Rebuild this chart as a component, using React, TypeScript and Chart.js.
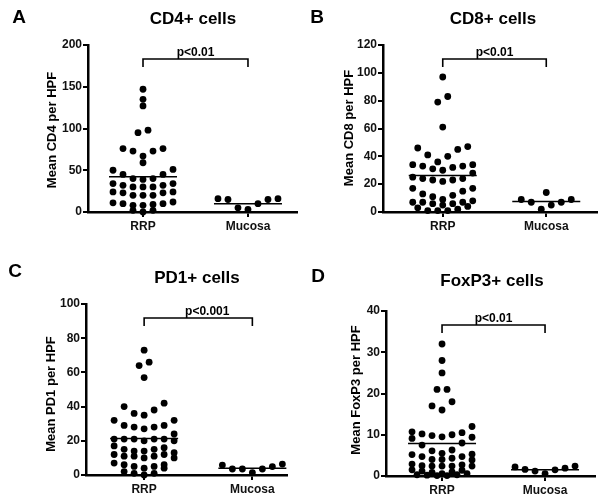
import React, { useEffect, useRef } from 'react';
import { Chart, registerables } from 'chart.js';
Chart.register(...registerables);

const FONT = '"Liberation Sans", Arial, Helvetica, sans-serif';

// ---------- data ----------
const groups = ['RRP', 'Mucosa'];

const cd4Rrp = [147, 135, 127, 98, 95, 76, 76, 73, 73, 67, 59, 51, 50, 45, 45, 40, 40, 39, 34, 34, 32, 32, 30, 30, 30, 24, 24, 23, 23, 20, 20, 20, 12, 11, 10, 10, 9, 8, 8, 2, 2, 0];
const cd4Muc = [16, 15, 15, 16, 10, 3, 5];
const cd4Means = [42.3, 10];
const cd4Ticks = [0, 50, 100, 150, 200];

const cd8Rrp = [97, 83, 79, 61, 47, 46, 45, 41, 40, 36, 34, 34, 33, 33, 32, 31, 30, 28, 25, 24, 24, 23, 23, 22, 17, 17, 15, 13, 12, 11, 9, 8, 7, 7, 7, 6, 6, 5, 4, 3, 2, 1, 1, 1];
const cd8Muc = [9, 7, 2, 14, 5, 7, 9];
const cd8Means = [26.3, 7.6];
const cd8Ticks = [0, 20, 40, 60, 80, 100, 120];

const pd1Rrp = [73, 66, 64, 57, 42, 40, 38, 36, 35, 32, 32, 29, 29, 28, 28, 27, 24, 21, 21, 21, 21, 21, 20, 20, 17, 16, 15, 15, 14, 14, 13, 12, 12, 11, 11, 11, 10, 10, 7, 6, 6, 5, 5, 4, 4, 2, 1, 1, 0];
const pd1Muc = [6.4, 4.9, 3.5, 1.4, 3.5, 3.5, 5.8];
const pd1Means = [21.4, 3.9];
const pd1Ticks = [0, 20, 40, 60, 80, 100];

const foxRrp = [32, 28, 25, 21, 21, 18, 17, 16, 12, 10.7, 10.5, 10.2, 10, 9.8, 9.5, 9.4, 9.1, 8, 7.5, 6.3, 6.1, 5.5, 5.3, 5.2, 4.7, 4.7, 4.3, 4, 4, 3.9, 2.9, 2.7, 2.5, 2.4, 2.4, 2.4, 2.4, 1.5, 1.4, 1.2, 1, 0.9, 0.6, 0.6, 0.3, 0.3, 0.2, 0.1, 0.1];
const foxMuc = [2.4, 1.9, 1.6, 0.6, 1.2, 1.5, 2.2];
const foxMeans = [7.9, 1.5];
const foxTicks = [0, 10, 20, 30, 40];

const letters = ['A', 'B', 'C', 'D'];
const titles = ['CD4+ cells', 'CD8+ cells', 'PD1+ cells', 'FoxP3+ cells'];
const yTitles = ['Mean CD4 per HPF', 'Mean CD8 per HPF', 'Mean PD1 per HPF', 'Mean FoxP3 per HPF'];
const pTexts = ['p<0.01', 'p<0.01', 'p<0.001', 'p<0.01'];

// ---------- layout (canvas coords, each panel 302x249) ----------
const W = 302, H = 249;
const layouts = [
  { left: 0, top: 0, area: { l: 88, t: 45, r: 297, b: 212 }, xMin: -0.524, xMax: 1.467, titleX: 193, titleY: 19, letterX: 19, letterY: 18, yTitleX: 52, yTitleY: 130, pDx: 0 },
  { left: 302, top: 0, area: { l: 81, t: 45, r: 295, b: 212 }, xMin: -0.577, xMax: 1.49, titleX: 191, titleY: 19, letterX: 15, letterY: 18, yTitleX: 47, yTitleY: 128, pDx: 0 },
  { left: 0, top: 249, area: { l: 86, t: 55, r: 287, b: 226 }, xMin: -0.537, xMax: 1.32, titleX: 197, titleY: 29, letterX: 15, letterY: 23, yTitleX: 51, yTitleY: 145, pDx: 9 },
  { left: 302, top: 249, area: { l: 84, t: 62, r: 293, b: 227 }, xMin: -0.544, xMax: 1.485, titleX: 190, titleY: 32, letterX: 16, letterY: 28, yTitleX: 54, yTitleY: 141, pDx: 0 },
];

const panelData = [
  { rrp: cd4Rrp, muc: cd4Muc, means: cd4Means, ticks: cd4Ticks },
  { rrp: cd8Rrp, muc: cd8Muc, means: cd8Means, ticks: cd8Ticks },
  { rrp: pd1Rrp, muc: pd1Muc, means: pd1Means, ticks: pd1Ticks },
  { rrp: foxRrp, muc: foxMuc, means: foxMeans, ticks: foxTicks },
];

// GraphPad-like row layout of dots (pixel offsets from category centre)
function swarmOffsets(values: number[], toPx: (v: number) => number, gap = 6, span = 17, cap = 7, step = 10): number[] {
  const idx = values.map((_, i) => i).sort((a, b) => values[b] - values[a]);
  const rows: number[][] = [];
  let cur: number[] = [];
  for (const i of idx) {
    if (cur.length) {
      const first = toPx(values[cur[0]]);
      const prev = toPx(values[cur[cur.length - 1]]);
      const y = toPx(values[i]);
      if (cur.length >= cap || y - prev > gap || y - first > span) {
        rows.push(cur);
        cur = [];
      }
    }
    cur.push(i);
  }
  if (cur.length) rows.push(cur);
  const off = new Array(values.length).fill(0);
  for (const row of rows) {
    const n = row.length;
    const slots = Array.from({ length: n }, (_, k) => (k - (n - 1) / 2) * step);
    const order = slots.map((_, k) => k).sort((a, b) => Math.abs(slots[a]) - Math.abs(slots[b]) || slots[a] - slots[b]);
    const asc = [...row].sort((a, b) => values[a] - values[b]);
    asc.forEach((p, k) => { off[p] = slots[order[k]]; });
  }
  return off;
}

const decoPlugin = {
  id: 'deco',
  afterDraw(chart: any, _args: any, opts: any) {
    const { idx } = opts;
    const lay = layouts[idx];
    const pd = panelData[idx];
    const ctx = chart.ctx as CanvasRenderingContext2D;
    const xs = chart.scales.x, ys = chart.scales.y;
    const area = chart.chartArea;
    ctx.save();
    ctx.fillStyle = '#000';
    ctx.strokeStyle = '#000';
    ctx.textAlign = 'center';
    ctx.textBaseline = 'middle';
    ctx.font = `bold 19px ${FONT}`;
    ctx.fillText(letters[idx], lay.letterX, lay.letterY);
    ctx.font = `bold 17px ${FONT}`;
    ctx.fillText(titles[idx], lay.titleX, lay.titleY);
    ctx.save();
    ctx.translate(lay.yTitleX, lay.yTitleY);
    ctx.rotate(-Math.PI / 2);
    ctx.font = `bold 13px ${FONT}`;
    ctx.fillText(yTitles[idx], 0, 0);
    ctx.restore();
    // mean lines
    ctx.lineWidth = 1.5;
    pd.means.forEach((m, g) => {
      const cx = xs.getPixelForValue(g);
      const yy = ys.getPixelForValue(m);
      ctx.beginPath();
      ctx.moveTo(cx - 34, yy);
      ctx.lineTo(cx + 34, yy);
      ctx.stroke();
    });
    // significance bracket
    const x0 = xs.getPixelForValue(0), x1 = xs.getPixelForValue(1);
    const by = area.top + 14, be = area.top + 22;
    ctx.lineWidth = 1.6;
    ctx.beginPath();
    ctx.moveTo(x0, be);
    ctx.lineTo(x0, by);
    ctx.lineTo(x1, by);
    ctx.lineTo(x1, be);
    ctx.stroke();
    ctx.font = `bold 12px ${FONT}`;
    ctx.textBaseline = 'alphabetic';
    ctx.fillText(pTexts[idx], (x0 + x1) / 2 + lay.pDx, by - 3.5);
    ctx.restore();
  },
};

function Panel({ idx }: { idx: number }) {
  const ref = useRef<HTMLCanvasElement>(null);
  useEffect(() => {
    const lay = layouts[idx];
    const pd = panelData[idx];
    const sets = [pd.rrp, pd.muc];
    const tickFont = { family: FONT, size: 12, weight: 'bold' as const };
    const chart = new Chart(ref.current!, {
      type: 'scatter',
      data: {
        datasets: sets.map((vals, g) => ({
          label: groups[g],
          data: vals.map((v) => ({ x: g, y: v })),
          pointRadius: 3.4,
          pointHoverRadius: 3.4,
          pointBackgroundColor: '#000',
          pointBorderWidth: 0,
          clip: false as any,
        })),
      },
      options: {
        animation: false,
        responsive: false,
        devicePixelRatio: 1,
        layout: { padding: { left: 0, top: lay.area.t, right: W - lay.area.r, bottom: 0 } },
        plugins: {
          legend: { display: false },
          tooltip: { enabled: false },
          deco: { idx },
        } as any,
        scales: {
          x: {
            type: 'linear',
            min: lay.xMin,
            max: lay.xMax,
            afterBuildTicks: (s: any) => { s.ticks = groups.map((_, i) => ({ value: i })); },
            afterFit: (s: any) => { s.height = H - lay.area.b; },
            ticks: { callback: (v: any) => groups[Math.round(Number(v))] ?? '', font: tickFont, color: '#111', padding: 2, maxRotation: 0, autoSkip: false },
            grid: { display: true, drawOnChartArea: false, drawTicks: true, tickLength: 5, color: '#000', lineWidth: 2 },
            border: { display: true, color: '#000', width: 2.5 },
          },
          y: {
            type: 'linear',
            min: pd.ticks[0],
            max: pd.ticks[pd.ticks.length - 1],
            afterBuildTicks: (s: any) => { s.ticks = pd.ticks.map((v) => ({ value: v })); },
            afterFit: (s: any) => { s.width = lay.area.l; },
            ticks: { font: tickFont, color: '#111', padding: 1 },
            grid: { display: true, drawOnChartArea: false, drawTicks: true, tickLength: 5, color: '#000', lineWidth: 2 },
            border: { display: true, color: '#000', width: 2.5 },
          },
        },
      },
      plugins: [decoPlugin],
    });
    const xs: any = chart.scales.x, ys: any = chart.scales.y;
    const pxPerUnit = xs.getPixelForValue(1) - xs.getPixelForValue(0);
    sets.forEach((vals, g) => {
      const off = swarmOffsets(vals, (v) => ys.getPixelForValue(v));
      (chart.data.datasets[g] as any).data = vals.map((v, i) => ({ x: g + off[i] / pxPerUnit, y: v }));
    });
    chart.update();
    return () => chart.destroy();
  }, [idx]);
  const lay = layouts[idx];
  return (
    <div style={{ position: 'absolute', left: lay.left, top: lay.top, width: W, height: H }}>
      <canvas ref={ref} width={W} height={H} style={{ display: 'block' }} />
    </div>
  );
}

export default function App() {
  return (
    <div style={{ position: 'absolute', left: 0, top: 0, width: 604, height: 498, background: '#fff' }}>
      {[0, 1, 2, 3].map((i) => <Panel key={i} idx={i} />)}
    </div>
  );
}
